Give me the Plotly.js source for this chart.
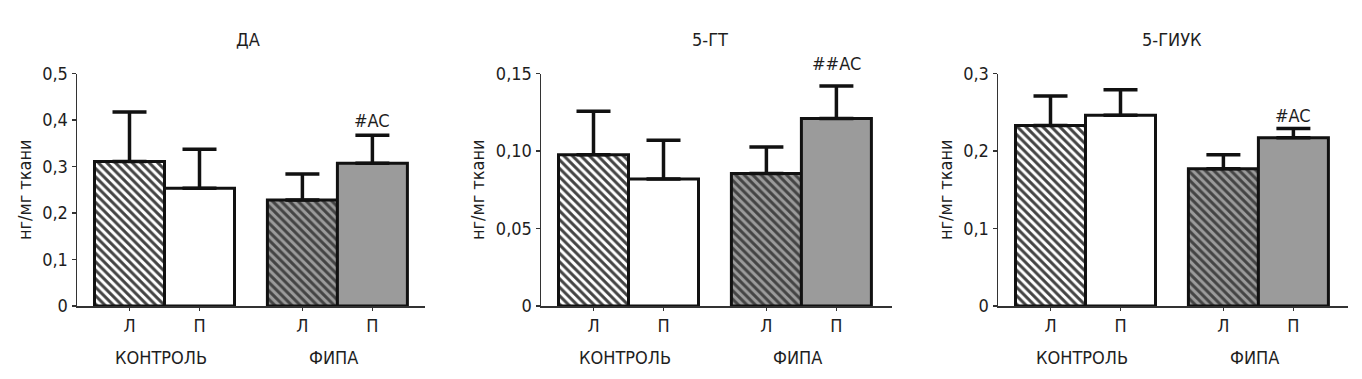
<!DOCTYPE html>
<html>
<head>
<meta charset="utf-8">
<script src="https://cdn.plot.ly/plotly-3.0.1.min.js"></script>
<style>
html,body{margin:0;padding:0;background:#fff;}
#chart{width:1362px;height:379px;}
</style>
</head>
<body>
<div id="chart"></div>
<script>
// ---- data ----
const barLabels = ["Л", "П", "Л", "П"];
const groupLabels = ["КОНТРОЛЬ", "ФИПА"];
const panelTitles = ["ДА", "5-ГТ", "5-ГИУК"];
const yAxisTitle = "нг/мг ткани";

const daMean   = [0.311, 0.253, 0.228, 0.307];
const daSem    = [0.106, 0.084, 0.056, 0.060];
const gtMean   = [0.0976, 0.0819, 0.0855, 0.121];
const gtSem    = [0.028, 0.025, 0.017, 0.021];
const giukMean = [0.233, 0.246, 0.177, 0.217];
const giukSem  = [0.038, 0.033, 0.018, 0.012];

const daSig   = ["", "", "", "#AC"];
const gtSig   = ["", "", "", "##AC"];
const giukSig = ["", "", "", "#AC"];

const daTicks   = [0, 0.1, 0.2, 0.3, 0.4, 0.5];
const daTickText   = ["0", "0,1", "0,2", "0,3", "0,4", "0,5"];
const gtTicks   = [0, 0.05, 0.10, 0.15];
const gtTickText   = ["0", "0,05", "0,10", "0,15"];
const giukTicks = [0, 0.1, 0.2, 0.3];
const giukTickText = ["0", "0,1", "0,2", "0,3"];

// ---- layout helpers ----
const W = 1362, H = 379;
const FONT = '"DejaVu Sans Condensed", "Liberation Sans Narrow", sans-serif';
const FS = 18;
const TXT = "#1e1e1e";
const GAP = 1.47;
const xPos = [0, 1, 1 + GAP, 2 + GAP];
const groupX = [(xPos[0] + xPos[1]) / 2, (xPos[2] + xPos[3]) / 2];

const panels = [
  {mean: daMean, sem: daSem, sig: daSig, ticks: daTicks, tickText: daTickText, ymax: 0.5, px: [77, 425], sigShift: 2, titleShift: -3},
  {mean: gtMean, sem: gtSem, sig: gtSig, ticks: gtTicks, tickText: gtTickText, ymax: 0.15, px: [541, 892], sigShift: 10, titleShift: -6},
  {mean: giukMean, sem: giukSem, sig: giukSig, ticks: giukTicks, tickText: giukTickText, ymax: 0.3, px: [998, 1348], sigShift: 1, titleShift: -1}
];

const yDom = [(H - 306) / H, (H - 73.5) / H];
const patternShapes = ["\\", "", "\\", ""];
const fillColors = ["#ffffff", "#ffffff", "#9b9b9b", "#9b9b9b"];
const stripeColors = ["#111111", "#111111", "#111111", "#111111"];

const traces = [];
const layout = {
  width: W, height: H,
  margin: {l: 0, r: 0, t: 0, b: 0},
  paper_bgcolor: "#fff", plot_bgcolor: "#fff",
  showlegend: false,
  font: {family: FONT, size: FS, color: TXT},
  annotations: [],
  bargap: 0
};

panels.forEach((p, i) => {
  const n = i === 0 ? "" : String(i + 1);
  const xa = "x" + n, ya = "y" + n;
  traces.push({
    type: "bar",
    x: xPos, y: p.mean,
    xaxis: xa, yaxis: ya,
    width: 1,
    marker: {
      color: fillColors,
      line: {color: "#111", width: 3},
      pattern: {shape: patternShapes, size: 6, solidity: 0.5, fgcolor: stripeColors, fgopacity: 1, fillmode: "overlay"}
    },
    error_y: {type: "data", symmetric: false, array: p.sem, arrayminus: p.sem.map(() => 0), color: "#111", thickness: 3.5, width: 17},
    hoverinfo: "skip"
  });
  const xd = [p.px[0] / W, p.px[1] / W];
  const xr = [-0.75, -0.75 + (p.px[1] - p.px[0]) / 70];
  layout["xaxis" + n] = {
    domain: xd, range: xr, anchor: ya,
    showline: true, linecolor: "#333", linewidth: 1.5,
    ticks: "outside", ticklen: 3, tickcolor: "#333", tickwidth: 1.5,
    tickvals: xPos, ticktext: barLabels,
    tickfont: {family: FONT, size: FS, color: TXT},
    showgrid: false, zeroline: false, fixedrange: true
  };
  layout["yaxis" + n] = {
    domain: yDom, range: [0, p.ymax], anchor: xa,
    showline: true, linecolor: "#333", linewidth: 1.5,
    ticks: "outside", ticklen: 4, tickcolor: "#333", tickwidth: 1.5,
    tickvals: p.ticks, ticktext: p.tickText,
    tickfont: {family: FONT, size: FS, color: TXT},
    showgrid: false, zeroline: false, fixedrange: true,
    title: {text: yAxisTitle, font: {family: FONT, size: FS, color: TXT}, standoff: 6}
  };
  layout.annotations.push({
    xref: "paper", yref: "paper",
    x: (xd[0] + xd[1]) / 2 + p.titleShift / W, y: (H - 39) / H,
    text: panelTitles[i], showarrow: false, xanchor: "center", yanchor: "middle",
    font: {family: FONT, size: FS, color: TXT}
  });
  groupLabels.forEach((g, k) => {
    layout.annotations.push({
      xref: xa, yref: "paper",
      x: groupX[k] - 0.05, y: (H - 357) / H,
      text: g, showarrow: false, xanchor: "center", yanchor: "middle",
      font: {family: FONT, size: FS, color: TXT}
    });
  });
  p.sig.forEach((s, k) => {
    if (!s) return;
    layout.annotations.push({
      xref: xa, yref: ya,
      x: xPos[k], y: p.mean[k] + p.sem[k],
      text: s, showarrow: false, xanchor: "center", yanchor: "bottom", yshift: p.sigShift,
      font: {family: FONT, size: FS, color: TXT}
    });
  });
});

Plotly.newPlot("chart", traces, layout, {staticPlot: true, displayModeBar: false});
</script>
</body>
</html>
